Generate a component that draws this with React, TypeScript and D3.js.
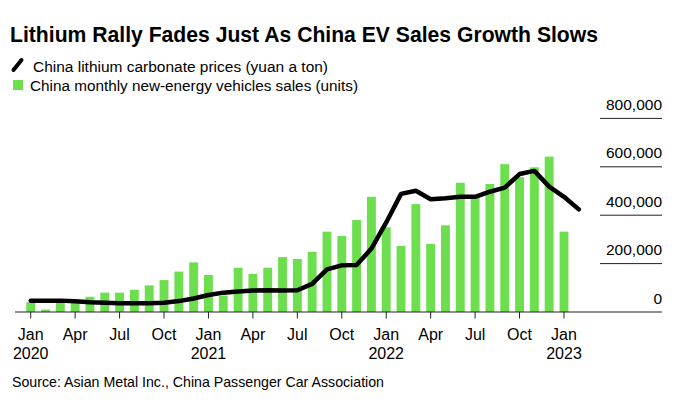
import React from 'react';
import * as d3 from 'd3';

// month categories (Feb 2023 only carries a price point)
const months = [
  '2020-01', '2020-02', '2020-03', '2020-04', '2020-05', '2020-06',
  '2020-07', '2020-08', '2020-09', '2020-10', '2020-11', '2020-12',
  '2021-01', '2021-02', '2021-03', '2021-04', '2021-05', '2021-06',
  '2021-07', '2021-08', '2021-09', '2021-10', '2021-11', '2021-12',
  '2022-01', '2022-02', '2022-03', '2022-04', '2022-05', '2022-06',
  '2022-07', '2022-08', '2022-09', '2022-10', '2022-11', '2022-12',
  '2023-01', '2023-02',
];

// China monthly new-energy vehicle sales (units), Jan 2020 - Jan 2023
const salesUnits = [
  40000, 10000, 40000, 48000, 63000, 80000, 80000, 92000, 110000, 132000, 167000, 205000,
  153000, 68000, 183000, 157000, 183000, 227000, 219000, 249000, 332000, 314000, 380000, 476000,
  350000, 273000, 446000, 281000, 358000, 534000, 475000, 529000, 611000, 557000, 598000, 642000,
  332000,
];

// China lithium carbonate price (yuan a ton), Jan 2020 - Feb 2023
const lithiumPrice = [
  47000, 47000, 47000, 44000, 40000, 38000, 36000, 36000, 36000, 38000, 45000, 56000,
  70000, 80000, 85000, 89000, 90000, 89000, 90000, 116000, 176000, 193000, 194000, 262000,
  370000, 488000, 501000, 466000, 470000, 476000, 476000, 497000, 514000, 570000, 583000, 518000,
  476000, 424000,
];

const yTicks = [0, 200000, 400000, 600000, 800000];
const xTicks = [
  '2020-01', '2020-04', '2020-07', '2020-10',
  '2021-01', '2021-04', '2021-07', '2021-10',
  '2022-01', '2022-04', '2022-07', '2022-10',
  '2023-01',
];
const monthNames = ['Jan', 'Feb', 'Mar', 'Apr', 'May', 'Jun', 'Jul', 'Aug', 'Sep', 'Oct', 'Nov', 'Dec'];

const font = "'Liberation Sans', Arial, sans-serif";
const green = '#6ddf4f';

export default function App() {
  const width = 680, height = 400;
  const baseY = 312;

  const x = d3.scaleBand<string>()
    .domain(months)
    .range([23.3, 586.2])
    .paddingInner(0.4)
    .paddingOuter(0.2);

  const y = d3.scaleLinear().domain([0, 800000]).range([baseY, 118.4]);

  const cx = (m: string) => (x(m) ?? 0) + x.bandwidth() / 2;

  const line = d3.line<number>()
    .x((_, i) => cx(months[i]))
    .y(d => y(d))
    .curve(d3.curveLinear);

  const fmt = d3.format(',');

  return (
    <svg width={width} height={height} style={{ position: 'absolute', left: 0, top: 0, background: '#fff' }}
      fontFamily={font}>
      <text x={10} y={42} fontSize={22} fontWeight="bold" fill="#000" textLength={588} lengthAdjust="spacingAndGlyphs">
        Lithium Rally Fades Just As China EV Sales Growth Slows
      </text>

      {/* legend */}
      <line x1={13.5} y1={70} x2={21.5} y2={60} stroke="#000" strokeWidth={4} strokeLinecap="round" />
      <text x={33} y={72} fontSize={15.5} fill="#000" textLength={295} lengthAdjust="spacingAndGlyphs">
        China lithium carbonate prices (yuan a ton)
      </text>
      <rect x={13} y={80} width={10} height={10} fill={green} />
      <text x={30} y={91} fontSize={15.5} fill="#000" textLength={328} lengthAdjust="spacingAndGlyphs">
        China monthly new-energy vehicles sales (units)
      </text>

      {/* y axis on the right */}
      {yTicks.map(t => (
        <g key={t}>
          {t > 0 && <line x1={600} x2={662} y1={y(t)} y2={y(t)} stroke="#222" strokeWidth={1} />}
          <text x={662} y={y(t) - 8.5} fontSize={15.5} textAnchor="end" fill="#000">{fmt(t)}</text>
        </g>
      ))}

      {/* bars */}
      {salesUnits.map((v, i) => (
        <rect key={months[i]} x={x(months[i])} y={y(v)} width={x.bandwidth()} height={baseY - y(v)} fill={green} />
      ))}

      {/* baseline and ticks */}
      <line x1={15} x2={662} y1={baseY} y2={baseY} stroke="#222" strokeWidth={1} />
      {xTicks.map(m => {
        const [yr, mo] = m.split('-');
        const mi = +mo - 1;
        return (
          <g key={m} transform={`translate(${cx(m)},0)`}>
            <line y1={baseY} y2={baseY + 6.5} stroke="#222" strokeWidth={1} />
            <text y={340} fontSize={16} textAnchor="middle" fill="#000">{monthNames[mi]}</text>
            {mi === 0 && <text y={359} fontSize={16} textAnchor="middle" fill="#000">{yr}</text>}
          </g>
        );
      })}

      {/* lithium price line */}
      <path d={line(lithiumPrice) ?? ''} fill="none" stroke="#000" strokeWidth={4.5}
        strokeLinejoin="round" strokeLinecap="round" />

      <text x={12} y={387} fontSize={14.5} fill="#000" textLength={372} lengthAdjust="spacingAndGlyphs">
        Source: Asian Metal Inc., China Passenger Car Association
      </text>
    </svg>
  );
}
